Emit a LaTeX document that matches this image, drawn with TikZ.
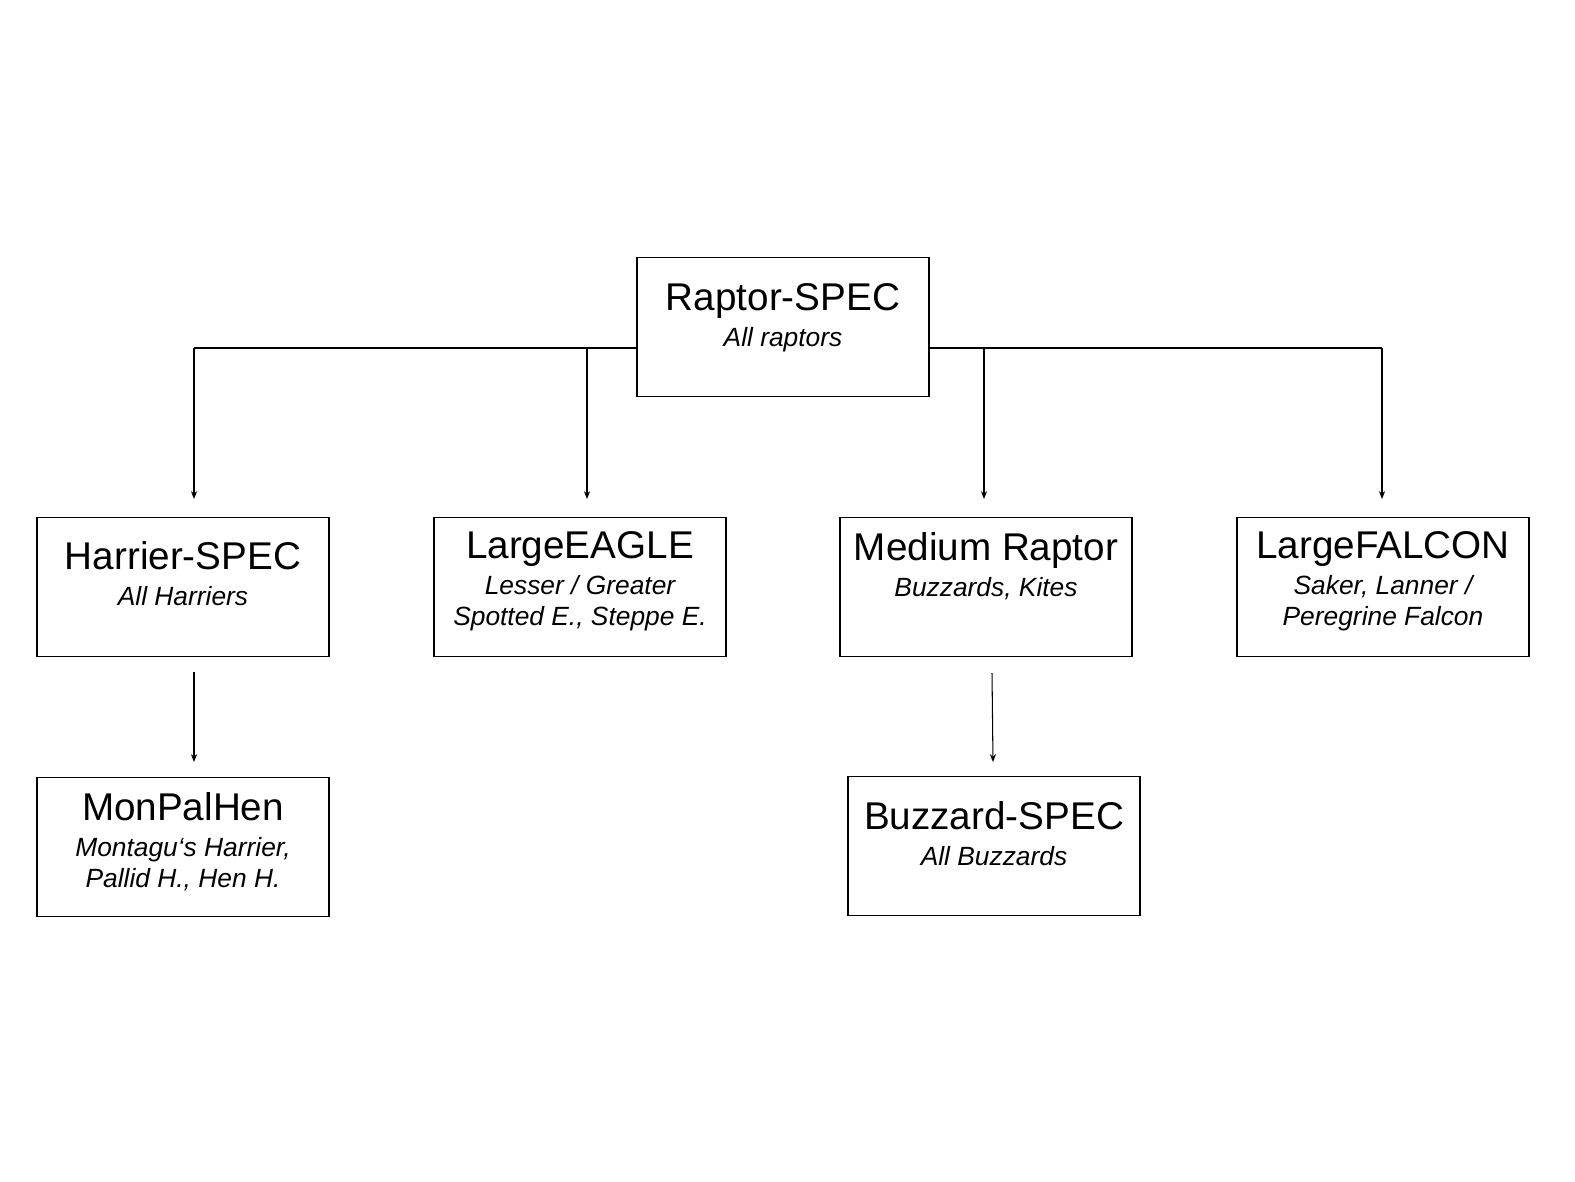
\documentclass[tikz,border=0pt]{standalone}
\usepackage{fontspec}
\setmainfont{Liberation Sans}
\usetikzlibrary{arrows.meta}
\newcommand{\subfont}{\fontsize{15}{17.6}\selectfont\itshape}
\newcommand{\ttl}[1]{{\fontsize{22}{22}\selectfont\upshape #1}\\[3pt]}
\tikzset{
  box/.style={draw, line width=0.8pt, minimum width=5.84cm, minimum height=2.78cm, inner sep=0pt},
  txt/.style={align=center, inner sep=0pt, font=\subfont},
  link/.style={line width=0.6pt},
  arr/.style={link, -{Stealth[length=4.5pt, width=3.5pt]}}
}
\begin{document}
\begin{tikzpicture}[x=0.02cm, y=-0.02cm]
    \useasboundingbox (0,0) rectangle (1575,1181);

    \node[box] (raptor) at (783, 327) {};
    \node[box] (harrier) at (183, 587) {};
    \node[box] (eagle) at (580, 587) {};
    \node[box] (medium) at (986, 587) {};
    \node[box] (falcon) at (1383, 587) {};
    \node[box] (monpal) at (183, 847) {};
    \node[box] (buzzard) at (994, 846) {};

    \node[txt] at (783, 318) {\ttl{Raptor-SPEC}{\subfont All raptors}};
    \node[txt] at (183, 574) {\ttl{Harrier-SPEC}{\subfont All Harriers}};
    \node[txt] at (580, 581) {\ttl{LargeEAGLE}{\subfont Lesser / Greater}\\{\subfont Spotted E., Steppe E.}};
    \node[txt] at (986, 566) {\ttl{Medium Raptor}{\subfont Buzzards, Kites}};
    \node[txt] at (1383, 581) {\ttl{LargeFALCON}{\subfont Saker, Lanner /}\\{\subfont Peregrine Falcon}};
    \node[txt] at (183, 842) {\ttl{MonPalHen}{\subfont Montagu‘s Harrier,}\\{\subfont Pallid H., Hen H.}};
    \node[txt] at (994, 834) {\ttl{Buzzard-SPEC}{\subfont All Buzzards}};

    % branches from the top box
    \coordinate (hl) at (194, 348);
    \coordinate (el) at (587, 348);
    \coordinate (ml) at (984, 348);
    \coordinate (fl) at (1382, 348);
    \coordinate (ha) at (194, 499);
    \coordinate (ea) at (587, 499);
    \coordinate (ma) at (984, 499);
    \coordinate (fa) at (1382, 499);

    \draw[link] (raptor.west |- hl) -- (hl);
    \draw[link] (raptor.east |- fl) -- (fl);
    \draw[arr] (hl) -- (ha);
    \draw[arr] (el) -- (ea);
    \draw[arr] (ml) -- (ma);
    \draw[arr] (fl) -- (fa);

    % second level
    \coordinate (hs) at (194, 672);
    \coordinate (ht) at (194, 762);
    \coordinate (bs) at (992, 673);
    \coordinate (bt) at (993, 762);
    \draw[arr] (hs) -- (ht);
    \draw[arr] (bs) -- (bt);
\end{tikzpicture}
\end{document}
